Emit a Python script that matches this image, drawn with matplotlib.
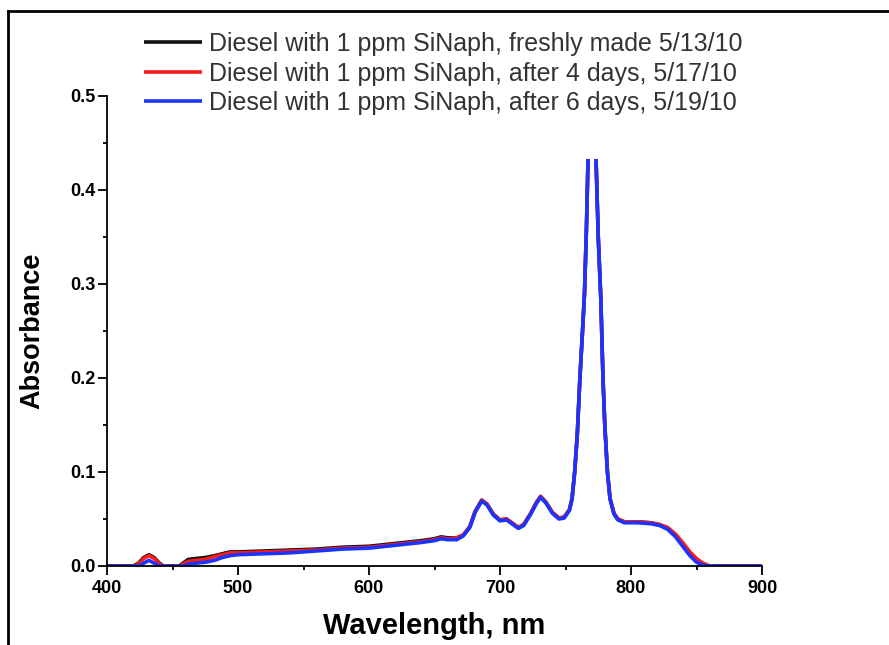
import numpy as np
import matplotlib
matplotlib.use("Agg")
import matplotlib.pyplot as plt
from matplotlib.lines import Line2D
from matplotlib.ticker import MultipleLocator

plt.rcParams['font.family'] = ['Liberation Sans', 'DejaVu Sans']

nan = np.nan

# wavelength grid (nm), shared by all three spectra
wavelength = [400, 420, 424, 428, 432, 436, 440, 443, 455, 458,
              462, 468, 475, 482, 488, 494, 500, 520, 540, 560,
              580, 600, 620, 640, 650, 655, 660, 667, 672, 677,
              681, 686, 690, 695, 700, 705, 709, 714, 718, 723,
              728, 731, 735, 740, 745, 749, 753, 755, 757, 759,
              761, 763, 764.5, 766, 767.2, 770, 773.3, 775, 777, 778.6,
              780, 782, 784, 787, 790, 795, 805, 815, 822, 828,
              834, 840, 845, 850, 855, 860, 900]

# absorbance, fresh sample 5/13/10
abs_fresh = [0, 0, 0.003, 0.009, 0.012, 0.009, 0.003, 0, 0, 0.003,
             0.007, 0.008, 0.009, 0.011, 0.013, 0.015, 0.015, 0.016, 0.017, 0.018,
             0.020, 0.021, 0.024, 0.027, 0.029, 0.031, 0.030, 0.030, 0.033, 0.042,
             0.058, 0.070, 0.066, 0.055, 0.049, 0.050, 0.046, 0.041, 0.044, 0.055,
             0.068, 0.074, 0.068, 0.057, 0.051, 0.052, 0.060, 0.072, 0.100, 0.140,
             0.200, 0.250, 0.290, 0.360, 0.433, nan, 0.433, 0.350, 0.283, 0.200,
             0.150, 0.100, 0.072, 0.056, 0.050, 0.047, 0.047, 0.046, 0.044, 0.040,
             0.033, 0.022, 0.013, 0.006, 0.002, 0, 0]

# after 4 days, 5/17/10
abs_day4 = [0, 0, 0.002, 0.008, 0.011, 0.008, 0.002, 0, 0, 0.002,
            0.005, 0.006, 0.007, 0.010, 0.012, 0.014, 0.014, 0.015, 0.016, 0.017,
            0.019, 0.020, 0.023, 0.026, 0.028, 0.030, 0.029, 0.030, 0.033, 0.042,
            0.058, 0.070, 0.066, 0.055, 0.049, 0.050, 0.046, 0.041, 0.044, 0.055,
            0.068, 0.074, 0.068, 0.057, 0.051, 0.052, 0.060, 0.072, 0.100, 0.140,
            0.200, 0.250, 0.290, 0.360, 0.433, nan, 0.433, 0.350, 0.283, 0.200,
            0.150, 0.100, 0.072, 0.056, 0.050, 0.047, 0.047, 0.046, 0.044, 0.041,
            0.034, 0.024, 0.015, 0.008, 0.003, 0, 0]

# after 6 days, 5/19/10
abs_day6 = [0, 0, 0, 0.003, 0.006, 0.003, 0, 0, 0, 0,
            0.002, 0.003, 0.004, 0.006, 0.009, 0.011, 0.012, 0.013, 0.014, 0.016,
            0.018, 0.019, 0.022, 0.025, 0.027, 0.029, 0.028, 0.028, 0.032, 0.041,
            0.057, 0.069, 0.065, 0.054, 0.048, 0.049, 0.045, 0.040, 0.043, 0.054,
            0.067, 0.073, 0.067, 0.056, 0.050, 0.051, 0.059, 0.071, 0.100, 0.140,
            0.200, 0.250, 0.290, 0.360, 0.433, nan, 0.433, 0.350, 0.283, 0.200,
            0.150, 0.100, 0.071, 0.055, 0.049, 0.046, 0.046, 0.045, 0.043, 0.039,
            0.031, 0.020, 0.011, 0.004, 0.001, 0, 0]

labels = ['Diesel with 1 ppm SiNaph, freshly made 5/13/10',
          'Diesel with 1 ppm SiNaph, after 4 days, 5/17/10',
          'Diesel with 1 ppm SiNaph, after 6 days, 5/19/10']
colors = ['#111111', '#ff1a1a', '#1a33ff']

fig = plt.figure(figsize=(8.89, 6.45), dpi=100)
ax = fig.add_axes([107/889, 79/645, 655/889, 470/645])

for y, c, lab in zip([abs_fresh, abs_day4, abs_day6], colors, labels):
    ax.plot(wavelength, y, color=c, lw=2.6, label=lab, solid_capstyle='butt')

ax.set_xlim(400, 900)
ax.set_ylim(0, 0.5)
ax.xaxis.set_major_locator(MultipleLocator(100))
ax.xaxis.set_minor_locator(MultipleLocator(50))
ax.yaxis.set_major_locator(MultipleLocator(0.1))
ax.yaxis.set_minor_locator(MultipleLocator(0.05))
ax.spines['top'].set_visible(False)
ax.spines['right'].set_visible(False)
for s in ('left', 'bottom'):
    ax.spines[s].set_linewidth(1.3)
ax.tick_params(which='major', direction='out', length=6.5, width=1.3, labelsize=13)
ax.tick_params(axis='y', which='major', pad=1.5)
ax.tick_params(which='minor', direction='out', length=3, width=1.3)
ax.yaxis.set_major_formatter(plt.FormatStrFormatter('%.1f'))
for t in ax.get_xticklabels() + ax.get_yticklabels():
    t.set_fontweight('bold')

ax.set_xlabel('Wavelength, nm', fontsize=21, fontweight='bold')
ax.set_ylabel('Absorbance', fontsize=19.5, fontweight='bold')
ax.xaxis.set_label_coords(0.5, -0.098)
ax.yaxis.set_label_coords(-0.094, 0.5)

leg = fig.legend(loc='upper left', bbox_to_anchor=(144/889, 1 - 32/645),
                 frameon=False, fontsize=18, handlelength=2.3, handletextpad=0.3,
                 labelspacing=0.22, borderpad=0, borderaxespad=0)
for t in leg.get_texts():
    t.set_color('#333333')

# page frame lines
fig.add_artist(Line2D([8/889, 1], [1 - 11/645, 1 - 11/645], transform=fig.transFigure,
                      color='black', lw=2))
fig.add_artist(Line2D([8/889, 8/889], [0, 1 - 11/645], transform=fig.transFigure,
                      color='black', lw=2))

fig.savefig('out.png', dpi=100)
